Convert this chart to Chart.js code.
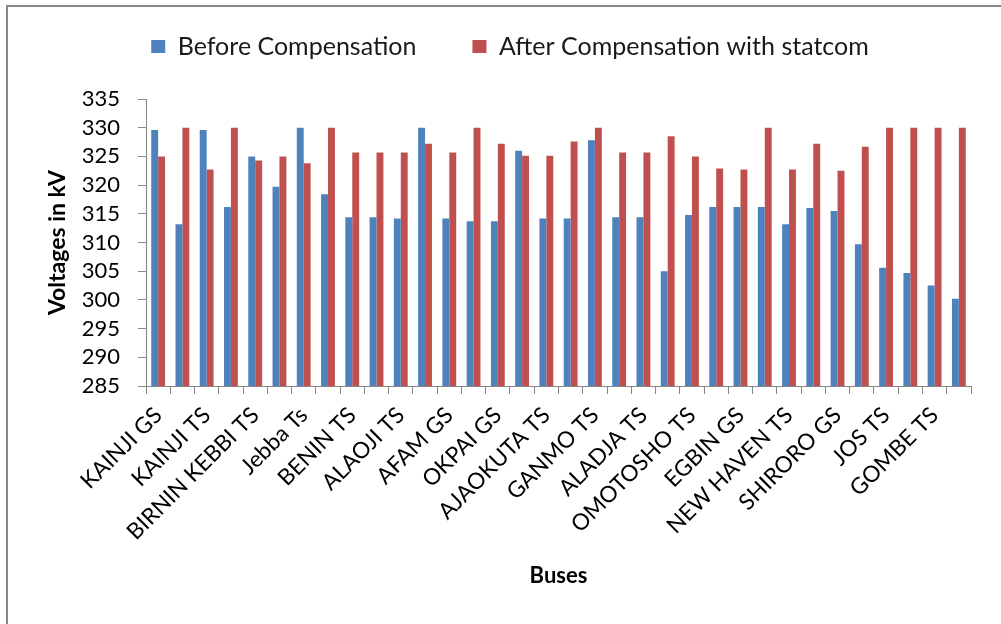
<!DOCTYPE html>
<html>
<head>
<meta charset="utf-8">
<title>Bus voltages</title>
<script src="https://cdn.jsdelivr.net/npm/chart.js@4.4.1/dist/chart.umd.min.js"></script>
<style>
    body { margin: 0; background: #fff; }
    #wrap { position: relative; width: 1001px; height: 624px; overflow: hidden; }
    #frame { position: absolute; left: 6px; top: 5px; width: 1100px; height: 700px; border: 2px solid #878787; }
    #bars { position: absolute; left: 0; top: 0; }
</style>
</head>
<body>
<div id="wrap">
    <div id="frame"></div>
    <canvas id="bars" width="1001" height="624"></canvas>
</div>
<script>
const buses = [
    'KAINJI GS', 'JEBBA GS', 'KAINJI TS', 'OSHOGBO TS', 'BIRNIN KEBBI TS', 'IKEJA WEST TS',
    'Jebba Ts', 'AKANGBA TS', 'BENIN TS', 'ONITSHA TS', 'ALAOJI TS', 'SAPELE GS',
    'AFAM GS', 'DELTA GS', 'OKPAI GS', 'GEREGU GS', 'AJAOKUTA TS', 'AYEDE TS',
    'GANMO TS', 'AJA TS', 'ALADJA TS', 'OLORUNSOGO GS', 'OMOTOSHO TS', 'PAPALANTO GS',
    'EGBIN GS', 'UGWUAJI TS', 'NEW HAVEN TS', 'KATAMPE TS', 'SHIRORO GS', 'KADUNA TS',
    'JOS TS', 'KANO TS', 'GOMBE TS', 'YOLA TS'
];

const beforeComp = [
    329.6, 313.2, 329.6, 316.2, 325.0, 319.7, 330.0, 318.4, 314.4, 314.4, 314.2, 330.0,
    314.2, 313.7, 313.7, 326.0, 314.2, 314.2, 327.8, 314.4, 314.4, 305.0, 314.8, 316.2,
    316.2, 316.2, 313.2, 316.0, 315.5, 309.7, 305.6, 304.7, 302.5, 300.2
];

const afterComp = [
    325.0, 330.0, 322.7, 330.0, 324.3, 325.0, 323.8, 330.0, 325.7, 325.7, 325.7, 327.2,
    325.7, 330.0, 327.2, 325.1, 325.1, 327.6, 330.0, 325.7, 325.7, 328.5, 325.0, 322.9,
    322.7, 330.0, 322.7, 327.2, 322.5, 326.7, 330.0, 330.0, 330.0, 330.0
];

const yTicks = [285, 290, 295, 300, 305, 310, 315, 320, 325, 330, 335];

const axisGrey = '#868686';
Chart.defaults.font.family = 'Lato';
Chart.defaults.color = '#000';

// keep the legend band at a fixed height so the plot starts where the original does
const legendBand = {
    id: 'legendBand',
    beforeInit(chart) {
        const fit = chart.legend.fit;
        chart.legend.fit = function () {
            fit.call(this);
            this.height = 121;
        };
    }
};

new Chart(document.getElementById('bars'), {
    type: 'bar',
    data: {
        labels: buses,
        datasets: [{
            label: 'Before Compensation',
            data: beforeComp,
            backgroundColor: '#4F81BD',
            borderWidth: 0,
            categoryPercentage: 0.57,
            barPercentage: 1.0
        }, {
            label: 'After Compensation with statcom',
            data: afterComp,
            backgroundColor: '#C0504D',
            borderWidth: 0,
            categoryPercentage: 0.57,
            barPercentage: 1.0
        }]
    },
    options: {
        responsive: false,
        animation: false,
        layout: { padding: { top: -22, left: 49, right: 30, bottom: 0 } },
        plugins: {
            legend: {
                position: 'top',
                labels: {
                    boxWidth: 14,
                    boxHeight: 13,
                    padding: 56,
                    color: '#1a1a1a',
                    font: { size: 25 }
                }
            },
            tooltip: { enabled: false }
        },
        scales: {
            x: {
                grid: { drawOnChartArea: false, color: axisGrey, tickLength: 8 },
                border: { color: axisGrey },
                ticks: {
                    autoSkip: false,
                    minRotation: 45,
                    maxRotation: 45,
                    padding: 8,
                    font: { size: 22.5 },
                    callback: (v, i) => (i % 2 === 0 ? buses[i] : '')
                },
                title: {
                    display: true,
                    text: 'Buses',
                    font: { size: 22, weight: 'bold' },
                    padding: { top: 0, bottom: 35 }
                },
                afterFit: s => { s.height = 238; }
            },
            y: {
                min: 285,
                max: 335,
                grid: { drawOnChartArea: false, color: axisGrey, tickLength: 8 },
                border: { color: axisGrey },
                ticks: { autoSkip: false, padding: 18, font: { size: 22 } },
                afterBuildTicks: s => { s.ticks = yTicks.map(v => ({ value: v })); },
                title: {
                    display: true,
                    text: 'Voltages in kV',
                    font: { size: 23, weight: 'bold' },
                    padding: { top: -5, bottom: 0 }
                },
                afterFit: s => { s.width = 97; }
            }
        }
    },
    plugins: [legendBand]
});
</script>
</body>
</html>
